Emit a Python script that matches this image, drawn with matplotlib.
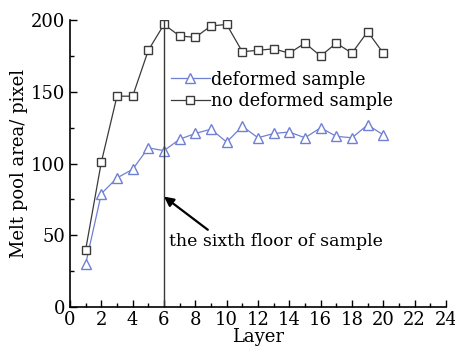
import numpy as np
import matplotlib.pyplot as plt
from matplotlib.ticker import MultipleLocator

layer = np.arange(1, 21)
no_deformed = [40, 101, 147, 147, 179, 197, 189, 188, 196, 197,
               178, 179, 180, 177, 184, 175, 184, 177, 192, 177]
deformed = [30, 79, 90, 96, 111, 109, 117, 121, 124, 115,
            126, 118, 121, 122, 118, 125, 119, 118, 127, 120]

plt.rcParams['font.family'] = 'DejaVu Serif'
plt.rcParams['font.size'] = 12

fig = plt.figure(figsize=(4.56, 3.46), dpi=100)
ax = fig.add_axes([0.1535, 0.1127, 0.8245, 0.829])

ax.plot(layer, deformed, color='#6f80d4', lw=0.9, marker='^', ms=7,
        mfc='white', mec='#6f80d4', mew=1.0, label='deformed sample')
ax.plot(layer, no_deformed, color='#3a3a3a', lw=0.9, marker='s', ms=6,
        mfc='white', mec='#3a3a3a', mew=1.0, label='no deformed sample')

ax.axvline(6, color='#3a3a3a', lw=1.0)
ax.annotate('the sixth floor of sample', xy=(6, 77), xytext=(6.3, 46),
            fontsize=12.5, va='center', ha='left',
            arrowprops=dict(arrowstyle='-|>', color='black', lw=1.6,
                            mutation_scale=14, shrinkA=0, shrinkB=0,
                            relpos=(0.2, 1.0)))

ax.set_xlim(0, 24)
ax.set_ylim(0, 200)
ax.xaxis.set_major_locator(MultipleLocator(2))
ax.xaxis.set_minor_locator(MultipleLocator(1))
ax.yaxis.set_major_locator(MultipleLocator(50))
ax.yaxis.set_minor_locator(MultipleLocator(25))
ax.tick_params(which='both', direction='in', labelsize=13, width=1)
ax.tick_params(which='major', length=5)
ax.tick_params(which='minor', length=3)
ax.tick_params(axis='x', pad=3)
for s in ['top', 'right']:
    ax.spines[s].set_visible(False)
for s in ['left', 'bottom']:
    ax.spines[s].set_linewidth(1.2)

ax.set_xlabel('Layer', fontsize=13, labelpad=-1)
ax.set_ylabel('Melt pool area/ pixel', fontsize=13, labelpad=2)

ax.legend(loc='upper left', bbox_to_anchor=(0.245, 0.855), frameon=False,
          fontsize=12.7, handlelength=2.2, handletextpad=0.1,
          labelspacing=0.2, borderpad=0)

fig.savefig('out.png', dpi=100)
